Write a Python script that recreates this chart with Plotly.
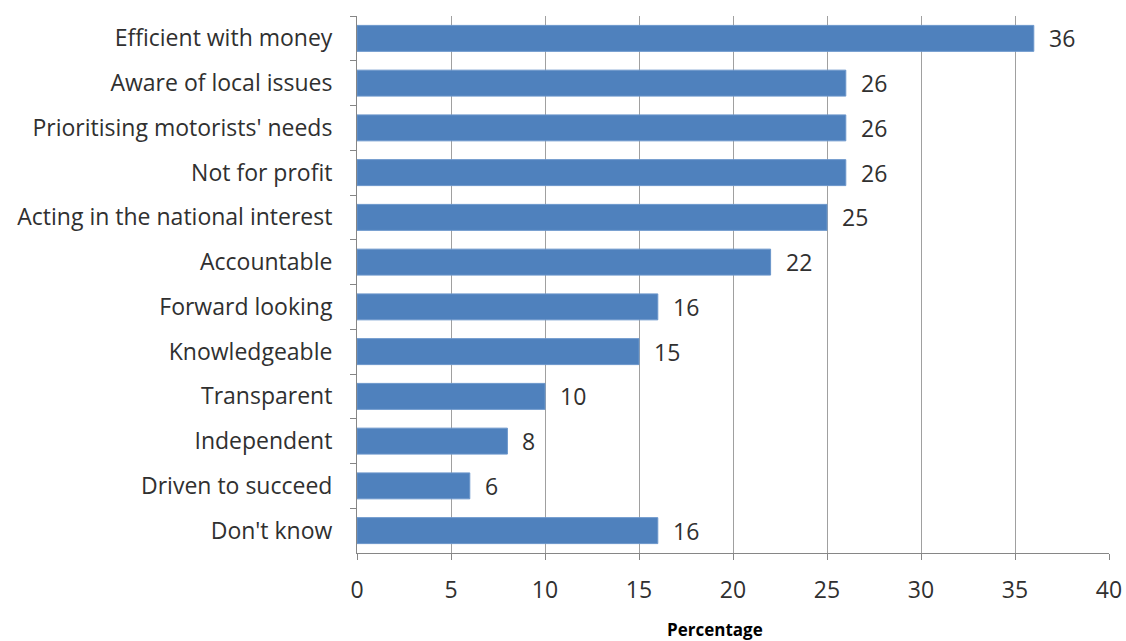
import plotly.graph_objects as go

categories = [
    "Efficient with money",
    "Aware of local issues",
    "Prioritising motorists' needs",
    "Not for profit",
    "Acting in the national interest",
    "Accountable",
    "Forward looking",
    "Knowledgeable",
    "Transparent",
    "Independent",
    "Driven to succeed",
    "Don't know",
]
values = [36, 26, 26, 26, 25, 22, 16, 15, 10, 8, 6, 16]
x_ticks = [0, 5, 10, 15, 20, 25, 30, 35, 40]

FONT = "Open Sans"
TXT = "#303030"
FS = 23

fig = go.Figure(
    go.Bar(
        x=values,
        y=categories,
        orientation="h",
        marker=dict(color="#4F81BD", line=dict(color="#6B96CB", width=1)),
        width=0.58,
        showlegend=False,
    )
)

for c, v in zip(categories, values):
    fig.add_annotation(
        x=v, y=c, text=str(v), showarrow=False, xanchor="left", xshift=13,
        font=dict(family=FONT, size=FS, color=TXT),
    )

fig.add_annotation(
    xref="paper", yref="paper", x=0.476, y=0, yanchor="top", yshift=-63,
    text="<b>Percentage</b>", showarrow=False,
    font=dict(family=FONT, size=17, color="#000000"),
)

fig.update_layout(
    width=1126,
    height=641,
    margin=dict(l=357, r=17, t=16, b=88, autoexpand=False),
    paper_bgcolor="white",
    plot_bgcolor="white",
    font=dict(family=FONT, size=FS, color=TXT),
)
fig.update_xaxes(
    range=[0, 40],
    tickvals=x_ticks,
    showgrid=True,
    gridcolor="#A0A0A0",
    gridwidth=1,
    showline=True,
    linecolor="#868686",
    linewidth=1,
    ticks="outside",
    ticklen=6,
    tickcolor="#868686",
    zeroline=False,
    automargin=False,
    ticklabelstandoff=10,
    tickfont=dict(family=FONT, size=FS, color=TXT),
)
fig.update_yaxes(
    autorange="reversed",
    showline=True,
    linecolor="#868686",
    linewidth=1,
    ticks="outside",
    ticklen=6,
    tickcolor="#868686",
    tickson="boundaries",
    showgrid=False,
    automargin=False,
    ticklabelstandoff=19,
    tickfont=dict(family=FONT, size=FS, color=TXT),
)

# remove the default 8px page margin so the figure fills the window exactly
fig.write_html(
    "out.html",
    config={"displayModeBar": False},
    post_script="document.body.style.margin='0';document.body.style.overflow='hidden';",
)
